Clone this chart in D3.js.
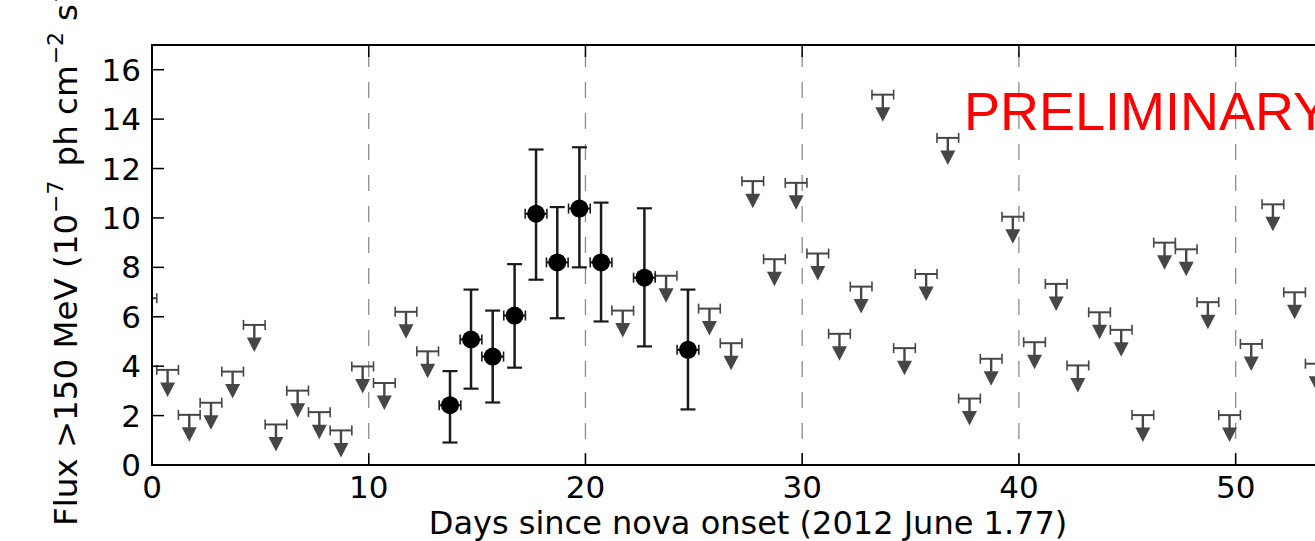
<!DOCTYPE html>
<html>
<head>
<meta charset="utf-8">
<script src="https://cdn.jsdelivr.net/npm/d3@7"></script>
<style>
  html, body { margin: 0; padding: 0; background: #fff; overflow: hidden; }
  svg { display: block; }
  text { font-family: "DejaVu Sans", sans-serif; fill: #000; }
</style>
</head>
<body>
<div id="chart"></div>
<script>
const width = 1315
const height = 541
const margin = { top: 45, left: 152 }
const plotW = 1192
const plotH = 420

// detections (days since onset, flux, error bounds)
const detDays = [13.75, 14.72, 15.72, 16.73, 17.72, 18.70, 19.72, 20.72, 22.72, 24.73]
const detFlux = [2.42, 5.08, 4.39, 6.05, 10.17, 8.20, 10.38, 8.20, 7.58, 4.66]
const detLow  = [0.91, 3.09, 2.53, 3.94, 7.50, 5.94, 8.00, 5.81, 4.80, 2.25]
const detHigh = [3.80, 7.10, 6.25, 8.13, 12.77, 10.44, 12.86, 10.62, 10.39, 7.10]

// upper limits
const ulDays = [-0.28, 0.72, 1.72, 2.72, 3.72, 4.72, 5.72, 6.72, 7.72, 8.72, 9.72, 10.72, 11.72, 12.72,
  21.72, 23.72, 25.72, 26.72, 27.72, 28.72, 29.72, 30.72, 31.72, 32.72, 33.72, 34.72, 35.72, 36.72,
  37.72, 38.72, 39.72, 40.72, 41.72, 42.72, 43.72, 44.72, 45.72, 46.72, 47.72, 48.72, 49.72, 50.72,
  51.72, 52.72, 53.72]
const ulFlux = [6.75, 3.85, 2.03, 2.52, 3.78, 5.67, 1.64, 3.01, 2.14, 1.40, 3.99, 3.32, 6.20, 4.60,
  6.25, 7.66, 6.33, 4.93, 11.49, 8.33, 11.42, 8.56, 5.31, 7.22, 14.99, 4.73, 7.73, 13.24,
  2.69, 4.30, 10.05, 4.97, 7.33, 4.03, 6.18, 5.47, 2.02, 9.00, 8.73, 6.59, 2.02, 4.90,
  10.55, 6.99, 4.10]

const binHalf = 0.5
const xTicks = [0, 10, 20, 30, 40, 50]
const yTicks = [0, 2, 4, 6, 8, 10, 12, 14, 16]
const dashDays = [10, 20, 30, 40, 50]

const svg = d3.select("div#chart").append("svg").attr("width", width).attr("height", height)

svg.append("defs").append("clipPath").attr("id", "plotClip")
    .append("rect").attr("width", plotW).attr("height", plotH)

const g = svg.append("g").attr("transform", `translate(${margin.left}, ${margin.top})`)

const x = d3.scaleLinear().domain([0, 55]).range([0, plotW])
const y = d3.scaleLinear().domain([0, 17]).range([plotH, 0])

// dashed vertical guides
g.selectAll("line.guide").data(dashDays).enter().append("line")
    .attr("x1", d => x(d)).attr("x2", d => x(d))
    .attr("y1", 0).attr("y2", plotH)
    .attr("stroke", "#8c8c8c").attr("stroke-width", 1.3)
    .attr("stroke-dasharray", "16,15").attr("stroke-dashoffset", -6)

const marks = g.append("g").attr("clip-path", "url(#plotClip)")

// upper limits
const ul = ulDays.map((d, i) => ({ day: d, flux: ulFlux[i] }))
const ulCol = "#464646"
const ulG = marks.selectAll("g.ul").data(ul).enter().append("g")
    .attr("transform", d => `translate(${x(d.day)}, ${y(d.flux)})`)
const halfPx = x(binHalf) - x(0)
ulG.append("line").attr("x1", -halfPx).attr("x2", halfPx).attr("y1", 0).attr("y2", 0)
    .attr("stroke", ulCol).attr("stroke-width", 2)
ulG.append("line").attr("x1", -halfPx).attr("x2", -halfPx).attr("y1", -5).attr("y2", 5)
    .attr("stroke", ulCol).attr("stroke-width", 1.6)
ulG.append("line").attr("x1", halfPx).attr("x2", halfPx).attr("y1", -5).attr("y2", 5)
    .attr("stroke", ulCol).attr("stroke-width", 1.6)
ulG.append("line").attr("x1", 0).attr("x2", 0).attr("y1", 0).attr("y2", 15)
    .attr("stroke", ulCol).attr("stroke-width", 2.4)
ulG.append("path").attr("d", "M-7.5,12.5 L7.5,12.5 L0,27 Z").attr("fill", ulCol)

// detections
const det = detDays.map((d, i) => ({ day: d, flux: detFlux[i], lo: detLow[i], hi: detHigh[i] }))
const detG = marks.selectAll("g.det").data(det).enter().append("g")
detG.append("line")
    .attr("x1", d => x(d.day)).attr("x2", d => x(d.day))
    .attr("y1", d => y(d.lo)).attr("y2", d => y(d.hi))
    .attr("stroke", "#1a1a1a").attr("stroke-width", 2.5)
detG.selectAll("line.cap").data(d => [d.lo, d.hi].map(v => ({ day: d.day, v: v }))).enter().append("line")
    .attr("x1", d => x(d.day) - 7.5).attr("x2", d => x(d.day) + 7.5)
    .attr("y1", d => y(d.v)).attr("y2", d => y(d.v))
    .attr("stroke", "#1a1a1a").attr("stroke-width", 2.2)
detG.append("line")
    .attr("x1", d => x(d.day - binHalf)).attr("x2", d => x(d.day + binHalf))
    .attr("y1", d => y(d.flux)).attr("y2", d => y(d.flux))
    .attr("stroke", "#1a1a1a").attr("stroke-width", 2.2)
detG.selectAll("line.xcap").data(d => [d.day - binHalf, d.day + binHalf].map(v => ({ day: v, f: d.flux }))).enter().append("line")
    .attr("x1", d => x(d.day)).attr("x2", d => x(d.day))
    .attr("y1", d => y(d.f) - 5).attr("y2", d => y(d.f) + 5)
    .attr("stroke", "#1a1a1a").attr("stroke-width", 1.6)
detG.append("circle")
    .attr("cx", d => x(d.day)).attr("cy", d => y(d.flux)).attr("r", 9)
    .attr("fill", "#000")

// frame
g.append("rect").attr("width", plotW).attr("height", plotH)
    .attr("fill", "none").attr("stroke", "#000").attr("stroke-width", 2)

// ticks inside, on all sides
const tickLen = 12
g.selectAll("line.xb").data(xTicks).enter().append("line")
    .attr("x1", d => x(d)).attr("x2", d => x(d)).attr("y1", plotH).attr("y2", plotH - tickLen)
    .attr("stroke", "#000").attr("stroke-width", 1.5)
g.selectAll("line.xt").data(xTicks).enter().append("line")
    .attr("x1", d => x(d)).attr("x2", d => x(d)).attr("y1", 0).attr("y2", tickLen)
    .attr("stroke", "#000").attr("stroke-width", 1.5)
g.selectAll("line.yl").data(yTicks).enter().append("line")
    .attr("x1", 0).attr("x2", tickLen).attr("y1", d => y(d)).attr("y2", d => y(d))
    .attr("stroke", "#000").attr("stroke-width", 1.5)
g.selectAll("line.yr").data(yTicks).enter().append("line")
    .attr("x1", plotW).attr("x2", plotW - tickLen).attr("y1", d => y(d)).attr("y2", d => y(d))
    .attr("stroke", "#000").attr("stroke-width", 1.5)

// tick labels
g.selectAll("text.xl").data(xTicks).enter().append("text")
    .attr("x", d => x(d)).attr("y", plotH + 33)
    .attr("text-anchor", "middle").style("font-size", "31px")
    .text(d => d)
g.selectAll("text.yl").data(yTicks).enter().append("text")
    .attr("x", -11).attr("y", d => y(d) + 11)
    .attr("text-anchor", "end").style("font-size", "31px")
    .text(d => d)

// axis labels
svg.append("text")
    .attr("x", margin.left + plotW / 2).attr("y", 534)
    .attr("text-anchor", "middle").style("font-size", "32px")
    .text("Days since nova onset (2012 June 1.77)")

const yl = svg.append("text")
    .attr("transform", "translate(77, 526) rotate(-90)")
    .attr("text-anchor", "start").style("font-size", "32.5px")
yl.append("tspan").text("Flux >150 MeV (10")
yl.append("tspan").attr("dy", -14).attr("dx", 1).style("font-size", "22px").text("\u22127")
yl.append("tspan").attr("dy", 14).attr("dx", 14).text("ph cm")
yl.append("tspan").attr("dy", -14).attr("dx", 1).style("font-size", "22px").text("\u22122")
yl.append("tspan").attr("dy", 14).attr("dx", 11).text("s")
yl.append("tspan").attr("dy", -14).attr("dx", 1).style("font-size", "22px").text("\u22121")
yl.append("tspan").attr("dy", 14).text(")")

// watermark
svg.append("text")
    .attr("x", 964).attr("y", 130)
    .style("font-family", "'Liberation Sans', Arial, sans-serif")
    .style("font-size", "54px").style("fill", "#ff0000")
    .text("PRELIMINARY")
</script>
</body>
</html>
